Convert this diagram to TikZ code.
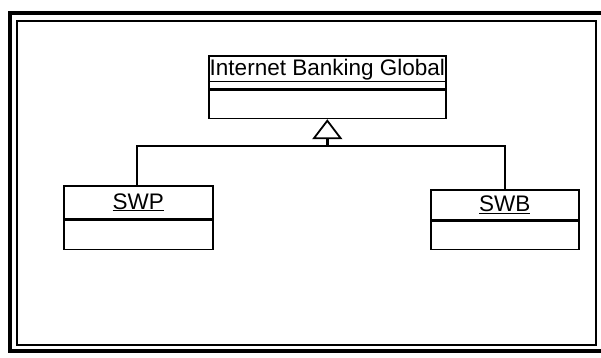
\documentclass[tikz,border=0pt]{standalone}
\usepackage{fontspec}
\setmainfont{Liberation Sans}
\usetikzlibrary{arrows.meta}

\tikzset{
  namebox/.style={draw, line width=1.6pt, inner sep=0pt, anchor=north west,
                  font=\fontsize{22.5}{25}\selectfont},
  attrbox/.style={draw, line width=1.6pt, inner sep=0pt, anchor=north},
  link/.style={line width=2.4pt},
  frame/.style={line width=1.5pt},
  heavy/.style={line width=4pt}
}

\begin{document}
\begin{tikzpicture}[x=1pt, y=-1pt]
  \useasboundingbox (0,0) rectangle (601,357);

  % double page frame
  \draw[frame] (17,21) rectangle (596,345);
  \draw[heavy] (10,11) -- (10,353);
  \draw[heavy] (8,13) -- (601,13);
  \draw[heavy] (8,351) -- (601,351);

  % parent class
  \node[namebox, minimum width=237pt, minimum height=33pt,
        text height=16pt, text depth=10pt] (igb) at (208,55)
    {\underline{Internet Banking Global}};
  \node[attrbox, minimum width=237pt, minimum height=28pt] (igba) at (igb.south) {};

  % child classes
  \node[namebox, minimum width=149pt, minimum height=33pt] (swp) at (63,185)
    {\underline{SWP}};
  \node[attrbox, minimum width=149pt, minimum height=29pt] (swpa) at (swp.south) {};

  \node[namebox, minimum width=148pt, minimum height=30pt] (swb) at (430,189)
    {\underline{SWB}};
  \node[attrbox, minimum width=148pt, minimum height=28pt] (swba) at (swb.south) {};

  % generalization
  \coordinate (j) at (igba.south |- 0,146);
  \draw[link] (swp.north -| 137,0) |- (j) -| (swb.north -| 505,0);
  \draw[link, -{Triangle[open, length=20pt, width=30pt, line width=1.8pt]}]
    (j) -- (igba.south);
\end{tikzpicture}
\end{document}
